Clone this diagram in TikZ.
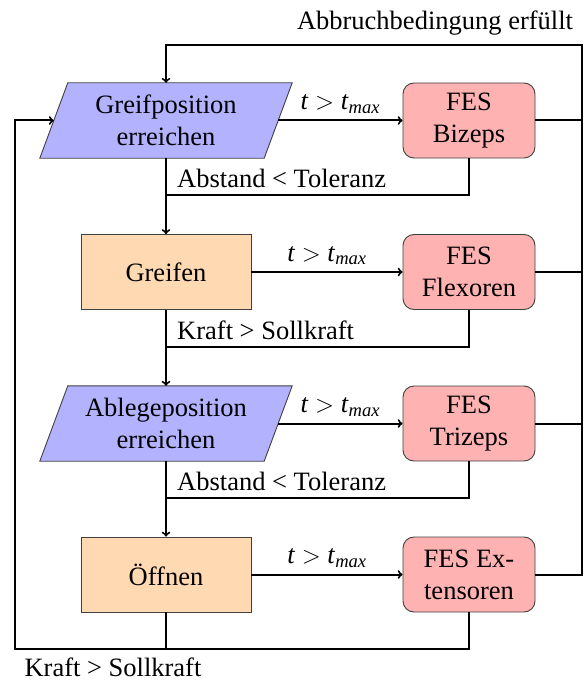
\documentclass[tikz,border=0pt]{standalone}
\usepackage{fontspec}
\setmainfont{Liberation Serif}
\setsansfont{Liberation Serif}
\usetikzlibrary{backgrounds,calc}
\begin{document}
\begin{tikzpicture}[x=1pt,y=-1pt,
  font=\rmfamily\fontsize{26.5}{32}\selectfont,
  box/.style={rectangle, draw=black!75, line width=0.9pt, align=center, inner sep=0pt, minimum height=75pt},
  fes/.style={box, rounded corners=11pt, fill=red!30, minimum width=132pt},
  act/.style={box, fill=orange!30, minimum width=170pt},
  para/.style={rectangle, draw=none, align=center, inner sep=0pt, minimum width=224pt, minimum height=75pt},
  parafill/.style={fill=blue!30, draw=black!75, line width=0.9pt},
  conn/.style={line width=2pt},
  arr/.style={conn, ->},
  lbl/.style={anchor=base west, inner sep=0pt},
  tlbl/.style={midway, anchor=base, inner sep=0pt, yshift=11pt}
]
\useasboundingbox (0,0) rectangle (584,682);

% nodes
\node[para] (g1) at (166,120.5) {Greifposition\\erreichen};
\node[fes]  (biz) at (469,120.5) {FES\\Bizeps};
\node[act]  (gr) at (166,272) {Greifen};
\node[fes]  (flex) at (469,272) {FES\\Flexoren};
\node[para] (g2) at (166,423.5) {Ablegeposition\\erreichen};
\node[fes]  (tri) at (469,423.5) {FES\\Trizeps};
\node[act]  (oe) at (166,574.5) {Öffnen};
\node[fes]  (ext) at (469,574.5) {FES Ex-\\tensoren};

\begin{pgfonlayer}{background}
\foreach \n in {g1,g2}{
  \path[parafill] ([xshift=14pt]\n.north west) -- ([xshift=14pt]\n.north east)
    -- ([xshift=-14pt]\n.south east) -- ([xshift=-14pt]\n.south west) -- cycle;
}
\end{pgfonlayer}

% helper coordinates
\coordinate (j1) at (166,195);
\coordinate (j2) at (166,347);
\coordinate (j3) at (166,498);
\coordinate (jb) at (166,649);
\coordinate (lb) at (15,649);
\coordinate (rt) at (582,45);
\coordinate (tl) at (166,45);

% horizontal arrows to FES
\draw[arr] (g1.east) -- (biz.west) node[tlbl] {\textit{t}~$>$~\textit{t}\textsubscript{\textit{max}}};
\draw[arr] (gr.east) -- (flex.west) node[tlbl] {\textit{t}~$>$~\textit{t}\textsubscript{\textit{max}}};
\draw[arr] (g2.east) -- (tri.west) node[tlbl] {\textit{t}~$>$~\textit{t}\textsubscript{\textit{max}}};
\draw[arr] (oe.east) -- (ext.west) node[tlbl] {\textit{t}~$>$~\textit{t}\textsubscript{\textit{max}}};

% downward flow
\draw[conn] (g1.south) -- (j1) -| (biz.south);
\draw[arr] (j1) -- (gr.north);
\draw[conn] (gr.south) -- (j2) -| (flex.south);
\draw[arr] (j2) -- (g2.north);
\draw[conn] (g2.south) -- (j3) -| (tri.south);
\draw[arr] (j3) -- (oe.north);

\node[lbl] (l1) at (177,187) {Abstand < Toleranz};
\node[lbl] (l2) at (177,339) {Kraft > Sollkraft};
\node[lbl] (l3) at (177,490) {Abstand < Toleranz};

% bottom loop back to start
\draw[conn] (ext.south) -- (ext.south |- jb) -- (jb);
\draw[arr] (oe.south) -- (jb) -- (lb) |- (g1.west);
\node[anchor=base, inner sep=0pt] (kr) at (113,676) {Kraft > Sollkraft};

% right loop (abort)
\draw[conn] (biz.east) -- (biz.east -| rt);
\draw[conn] (flex.east) -- (flex.east -| rt);
\draw[conn] (tri.east) -- (tri.east -| rt);
\draw[arr] (ext.east) -| (rt) -- (tl) -- (g1.north);
\node[anchor=base, inner sep=0pt] (abb) at (435,30) {Abbruchbedingung erfüllt};
\end{tikzpicture}
\end{document}
